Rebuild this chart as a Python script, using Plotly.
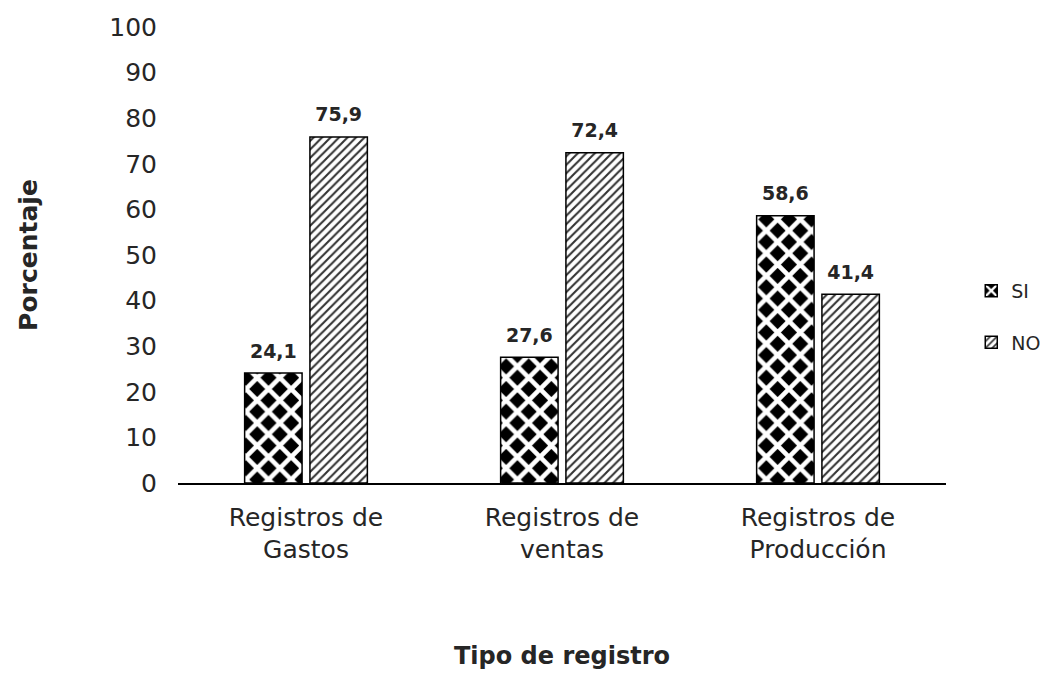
import plotly.graph_objects as go

categories = ["Registros de<br>Gastos", "Registros de<br>ventas", "Registros de<br>Producción"]
si_values = [24.1, 27.6, 58.6]
no_values = [75.9, 72.4, 41.4]
y_ticks = [0, 10, 20, 30, 40, 50, 60, 70, 80, 90, 100]

def labels(vals):
    return [f"<span style='font-size:19px'><b>{str(v).replace('.', ',')}</b></span><br> " for v in vals]

font_family = "DejaVu Sans, Liberation Sans, Arial, sans-serif"
txt = "#262626"

fig = go.Figure()
fig.add_trace(go.Bar(
    name="SI", x=categories, y=si_values,
    text=labels(si_values), textposition="outside", cliponaxis=False,
    textfont=dict(size=8, color=txt, family=font_family),
    marker=dict(color="black", line=dict(color="black", width=1.5),
                pattern=dict(shape="x", fgcolor="white", bgcolor="black",
                             size=16, solidity=0.5, fillmode="replace")),
    legendgroup="si",
))
fig.add_trace(go.Bar(
    name="NO", x=categories, y=no_values,
    text=labels(no_values), textposition="outside", cliponaxis=False,
    textfont=dict(size=8, color=txt, family=font_family),
    marker=dict(color="white", line=dict(color="black", width=1.5),
                pattern=dict(shape="/", fgcolor="#333", bgcolor="white",
                             size=6, solidity=0.35, fillmode="replace")),
    legendgroup="no",
))

fig.update_layout(
    width=1050, height=674,
    paper_bgcolor="white", plot_bgcolor="white",
    margin=dict(l=178, r=104, t=27, b=191),
    barmode="group", bargap=0.49, bargroupgap=0.12,
    font=dict(family=font_family, color=txt),
    showlegend=True,
    uniformtext=dict(mode=False),
    legend=dict(xref="container", yref="container", x=0.925, y=0.53,
                xanchor="left", yanchor="middle",
                font=dict(size=19, color=txt), tracegroupgap=24,
                traceorder="grouped", bgcolor="rgba(0,0,0,0)"),
)
fig.update_xaxes(
    showline=True, linecolor="black", linewidth=1.5,
    showgrid=False, ticks="", tickfont=dict(size=25, color=txt),
    ticklabelstandoff=11,
    title=dict(text="<b>Tipo de registro</b>", font=dict(size=24, color=txt), standoff=84),
    automargin=False,
)
fig.update_yaxes(
    range=[0, 100], tickvals=y_ticks, showline=False, showgrid=False,
    zeroline=False, ticks="", tickfont=dict(size=25, color=txt),
    ticklabelstandoff=20,
    title=dict(text="<b>Porcentaje</b>", font=dict(size=25, color=txt), standoff=64),
    automargin=False,
)

fig.write_html("out.html")
